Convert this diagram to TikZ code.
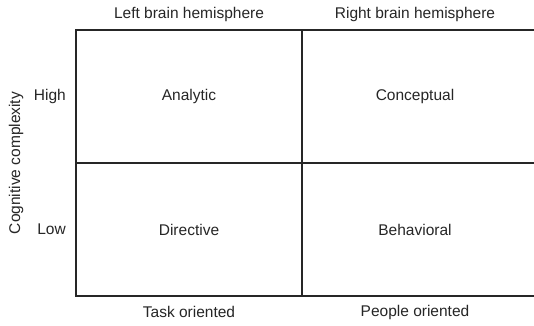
\documentclass[tikz,border=0pt]{standalone}
\usepackage{fontspec}
\setmainfont{Liberation Sans}
\usepackage{tikz}
\usetikzlibrary{positioning}

\begin{document}
\begin{tikzpicture}[
                x = 1pt,
                y = 1pt,
                frame/.style = {
                    line width = 1.2pt,
                    black!85
                },
                txt/.style = {
                    font = \fontsize{15.5}{18}\selectfont,
                    text = black!85,
                    inner sep = 0pt
                }
            ]
            \useasboundingbox (0,0) rectangle (534,325);
            \clip (0,0) rectangle (534,325);
            % 
            \fill[white] (0,0) rectangle (534,325);
            % 
            \node[txt] (analytic) at (189,228.5) {Analytic};
            \node[txt] (conceptual) at (415,228.5) {Conceptual};
            \node[txt] (directive) at (189,95.5) {Directive};
            \node[txt] (behavioral) at (415,95.5) {Behavioral};
            % 
            \node[txt] (left) at (189,311) {Left brain hemisphere};
            \node[txt] (right) at (415,311) {Right brain hemisphere};
            \node[txt] (task) at (189,13) {Task oriented};
            \node[txt] (people) at (415,13) {People oriented};
            % 
            \node[txt, anchor=east] (high) at (66,228.5) {High};
            \node[txt, anchor=east] (low) at (66,95.5) {Low};
            \node[txt, rotate=90] (cognitive) at (16,162) {Cognitive complexity};
            % 
            \draw[frame] (540,295) -- (76,295) -- (76,29) -- (540,29);
            \draw[frame] (302,295) -- (302,29);
            \draw[frame] (76,162) -- (540,162);
            % 
        \end{tikzpicture}
\end{document}
